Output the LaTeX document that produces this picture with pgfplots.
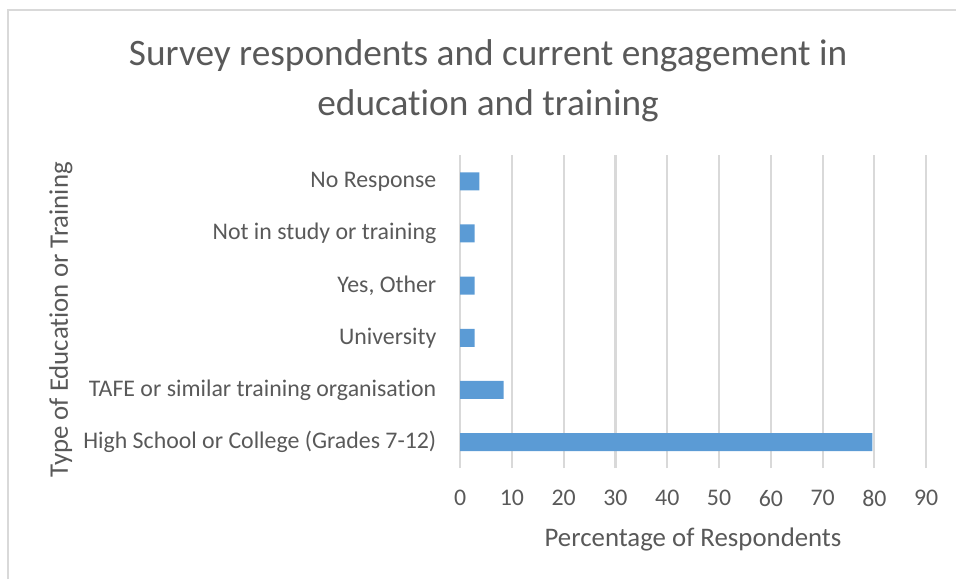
\documentclass[border=0pt]{standalone}
\usepackage{fontspec}
\setmainfont[Ligatures=NoCommon]{Carlito}
\usepackage{pgfplots}
\pgfplotsset{compat=1.18}
\definecolor{txt}{HTML}{595959}
\definecolor{grid}{HTML}{D9D9D9}
\definecolor{bar}{HTML}{5B9BD5}
\begin{document}
\begin{tikzpicture}
\useasboundingbox (0,0) rectangle (369.0pt,223.5pt);
\draw[color=grid,line width=0.5pt] (3.1pt,0) -- (3.1pt,219.6pt) -- (369.0pt,219.6pt);
\begin{axis}[
  at={(177.6pt,42.8pt)}, anchor=south west,
  scale only axis, width=179.9pt, height=120.8pt,
  xmin=0, xmax=90, ymin=-0.5, ymax=5.5,
  xtick={0,10,...,90},
  ytick={0,1,2,3,4,5},
  yticklabels={High School or College (Grades 7-12),TAFE or similar training organisation,University,{Yes, Other},Not in study or training,No Response},
  axis line style={draw=none},
  major tick length=0pt,
  xmajorgrids, grid style={color=grid,line width=0.8pt},
  tick label style={font=\fontsize{9.2}{11}\selectfont, color=txt, inner sep=0pt},
  /pgf/number format/assume math mode=true,
  yticklabel shift=9.0pt,
  xticklabel shift=8.3pt,
  xbar, bar width=6.95pt,
  clip=false,
]
\addplot[fill=bar, draw=none] coordinates {(79.6,0) (8.4,1) (2.8,2) (2.8,3) (2.8,4) (3.7,5)};
\end{axis}
\node[anchor=base, color=txt, font=\fontsize{14.4}{17}\selectfont] at (188.4pt,198.4pt) {Survey respondents and current engagement in};
\node[anchor=base, color=txt, font=\fontsize{14.4}{17}\selectfont] at (188.4pt,179.1pt) {education and training};
\node[anchor=base, color=txt, font=\fontsize{10.35}{12}\selectfont] at (267.5pt,12.5pt) {Percentage of Respondents};
\node[anchor=base, rotate=90, color=txt, font=\fontsize{10.35}{12}\selectfont] at (26.2pt,100pt) {Type of Education or Training};
\end{tikzpicture}
\end{document}
